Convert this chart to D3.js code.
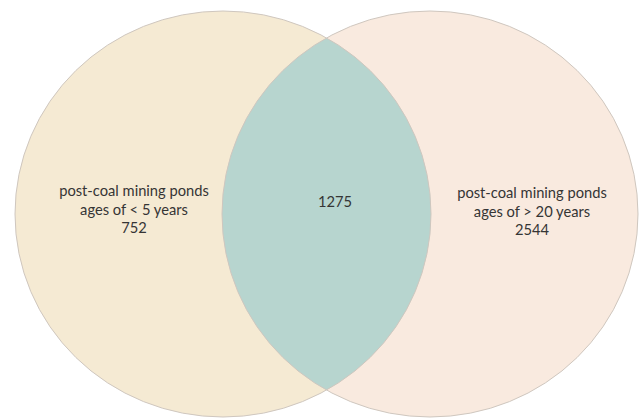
<!DOCTYPE html>
<html>
<head>
<meta charset="utf-8">
<script src="https://cdn.jsdelivr.net/npm/d3@7"></script>
<style>
  html, body { margin: 0; padding: 0; background: #ffffff; }
  svg { display: block; }
</style>
</head>
<body>
<svg id="chart" width="641" height="418"></svg>
<script>
// ---- data ----
const setNames = ["post-coal mining ponds", "post-coal mining ponds"];
const setAges = ["ages of < 5 years", "ages of > 20 years"];
const setOnly = [752, 2544];
const overlapValue = 1275;
const setColors = ["#F5EAD3", "#F9EADF"];
const overlapColor = "#B7D5CF";

// ---- layout ----
const W = 641, H = 418;
const svg = d3.select("#chart");
const x = d3.scaleLinear().domain([0, 1]).range([223, 430]); // ellipse centre positions
const cy = 214, rx = 208, ry = 203;

const sets = setOnly.map((v, i) => ({ i, name: setNames[i], age: setAges[i], value: v, color: setColors[i], cx: x(i) }));

// clip path of left ellipse
svg.append("defs").append("clipPath").attr("id", "clipA")
  .append("ellipse").attr("cx", sets[0].cx).attr("cy", cy).attr("rx", rx).attr("ry", ry);

// fills
svg.selectAll("ellipse.fill").data(sets).enter().append("ellipse")
  .attr("class", "fill")
  .attr("cx", d => d.cx).attr("cy", cy).attr("rx", rx).attr("ry", ry)
  .attr("fill", d => d.color);

// intersection
svg.append("ellipse")
  .attr("cx", sets[1].cx).attr("cy", cy).attr("rx", rx).attr("ry", ry)
  .attr("clip-path", "url(#clipA)")
  .attr("fill", overlapColor);

// outlines
svg.selectAll("ellipse.outline").data(sets).enter().append("ellipse")
  .attr("class", "outline")
  .attr("cx", d => d.cx).attr("cy", cy).attr("rx", rx).attr("ry", ry)
  .attr("fill", "none").attr("stroke", "#CFC7BF").attr("stroke-width", 1);

// labels
const font = "Lato, 'Open Sans', sans-serif";
const fs = 14.7;
const labelPos = [{ x: 134, y: 196 }, { x: 532, y: 198 }];
sets.forEach((d, i) => {
  const t = svg.append("text")
    .attr("text-anchor", "middle")
    .attr("font-family", font).attr("font-size", fs)
    .attr("fill", "#353535");
  [d.name, d.age, String(d.value)].forEach((line, k) => {
    t.append("tspan").attr("x", labelPos[i].x).attr("y", labelPos[i].y + k * 18.5).text(line);
  });
});

svg.append("text")
  .attr("x", 335).attr("y", 207)
  .attr("text-anchor", "middle")
  .attr("font-family", font).attr("font-size", fs)
  .attr("fill", "#353535")
  .text(overlapValue);
</script>
</body>
</html>
